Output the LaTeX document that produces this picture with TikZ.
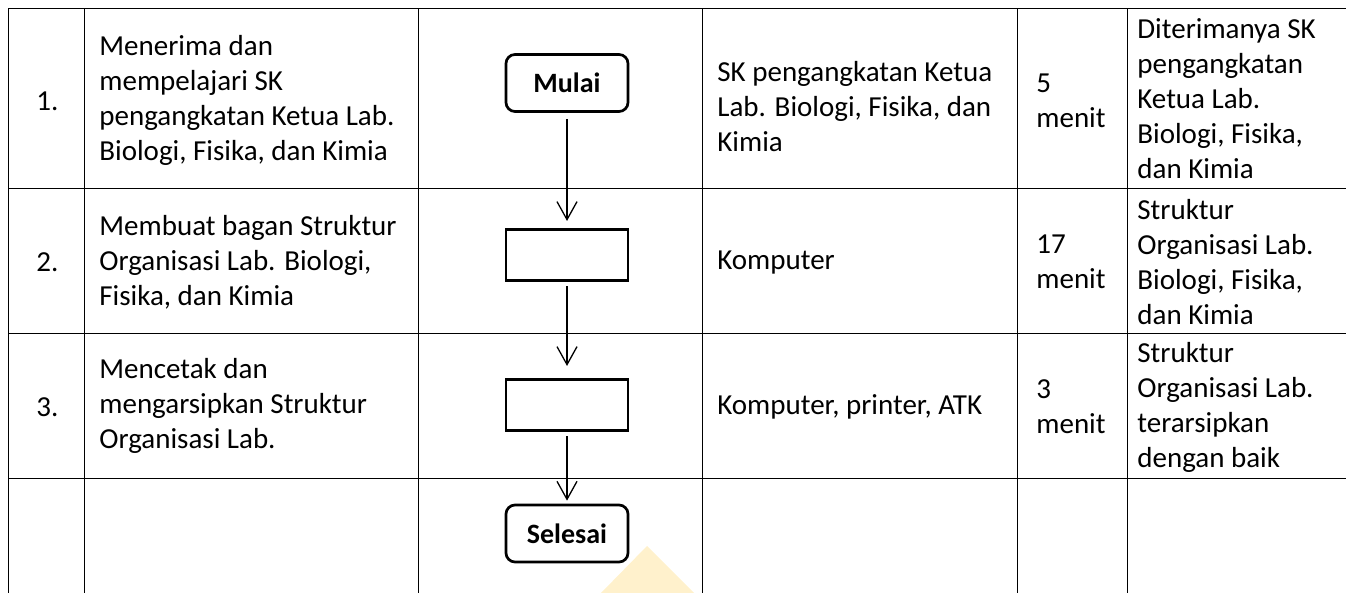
\documentclass[tikz,border=0pt]{standalone}
\usepackage{fontspec}
\setmainfont{Carlito}
\definecolor{sopInk}{HTML}{000000}
\definecolor{sopMark}{HTML}{FFF1CC}
\usetikzlibrary{arrows.meta,positioning}

\begin{document}
\begin{tikzpicture}[x=0.5pt,y=-0.5pt,
  grid/.style={draw=sopInk,line width=0.5pt},
  txt/.style={anchor=west,align=left,inner sep=0pt,
              font=\fontsize{14.5}{17.5}\selectfont},
  term/.style={draw=sopInk,line width=1.35pt,fill=white,rounded corners=4.5pt,
               minimum width=61pt,minimum height=28.5pt,inner sep=0pt,
               font=\fontsize{14}{16}\selectfont\bfseries},
  proc/.style={draw=sopInk,line width=1.35pt,fill=white,
               minimum width=61pt,minimum height=25.7pt,inner sep=0pt},
  flow/.style={draw=sopInk,line width=0.65pt,
               -{Straight Barb[length=9pt,width=10pt]}}]
\useasboundingbox (0,0) rectangle (1346,593);
% faint mark behind the table
\fill[sopMark] (601,593) -- (647,546) -- (694,593) -- cycle;
% table rules, open at the bottom and on the right
\foreach \x in {8,84,418,702,1017,1127} {\draw[grid] (\x,9) -- (\x,593);}
\foreach \y in {9,189,334,479}          {\draw[grid] (8,\y) -- (1346,\y);}
% step numbers
\node[txt] (n1) at (36,101)   {1.};
\node[txt] (n2) at (36,262)   {2.};
\node[txt] (n3) at (36,407)   {3.};
% activities
\node[txt] (a1) at (99,100) {Menerima dan\\mempelajari SK\\pengangkatan Ketua Lab.\\Biologi, Fisika, dan Kimia};
\node[txt] (a2) at (99,262) {Membuat bagan Struktur\\Organisasi Lab. Biologi,\\Fisika, dan Kimia};
\node[txt] (a3) at (99,406) {Mencetak dan\\mengarsipkan Struktur\\Organisasi Lab.};
% flow column
\node[term] (mulai)   at (567,83)    {Mulai};
\node[proc] (keg2)    at (567,255)   {};
\node[proc] (keg3)    at (567,405)   {};
\node[term] (selesai) at (567,533.5) {Selesai};
\draw[flow,shorten <=3pt,shorten >=3.5pt] (mulai) -- (keg2);
\draw[flow,shorten <=2pt,shorten >=6pt]   (keg2)  -- (keg3);
\draw[flow,shorten <=2pt,shorten >=1.5pt] (keg3)  -- (selesai);
% tools
\node[txt] (t1) at (717,107) {SK pengangkatan Ketua\\Lab. Biologi, Fisika, dan\\Kimia};
\node[txt] (t2) at (717,263) {Komputer};
\node[txt] (t3) at (717,407) {Komputer, printer, ATK};
% time
\node[txt] (w1) at (1036,101) {5\\menit};
\node[txt] (w2) at (1036,262) {17\\menit};
\node[txt] (w3) at (1036,407) {3\\menit};
% output
\node[txt] (o1) at (1137,99)  {Diterimanya SK\\pengangkatan\\Ketua Lab.\\Biologi, Fisika,\\dan Kimia};
\node[txt] (o2) at (1137,262) {Struktur\\Organisasi Lab.\\Biologi, Fisika,\\dan Kimia};
\node[txt] (o3) at (1137,407) {Struktur\\Organisasi Lab.\\terarsipkan\\dengan baik};
\end{tikzpicture}
\end{document}
